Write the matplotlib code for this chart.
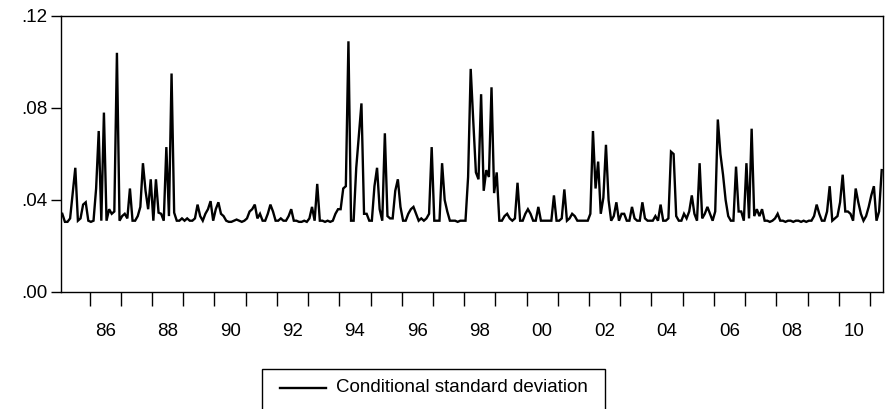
import numpy as np
import matplotlib
matplotlib.use("Agg")
import matplotlib.pyplot as plt
from matplotlib.lines import Line2D
from matplotlib.patches import Rectangle

plt.rcParams['font.family'] = ['Liberation Sans', 'DejaVu Sans']

# Monthly series, first observation 1985M2
start_year = 1985
start_month = 2
cond_sd = [
    0.034, 0.0305, 0.0305, 0.032, 0.043, 0.054, 0.031, 0.032, 0.038, 0.039, 0.031, 0.0305,
    0.031, 0.045, 0.070, 0.031, 0.078, 0.031, 0.036, 0.034, 0.035, 0.104, 0.031, 0.033,
    0.034, 0.032, 0.045, 0.031, 0.031, 0.033, 0.037, 0.056, 0.044, 0.036, 0.049, 0.031,
    0.049, 0.0345, 0.034, 0.031, 0.063, 0.033, 0.095, 0.0345, 0.031, 0.031, 0.032, 0.031,
    0.032, 0.031, 0.031, 0.032, 0.038, 0.033, 0.031, 0.034, 0.036, 0.0395, 0.031, 0.036,
    0.039, 0.034, 0.033, 0.031, 0.0305, 0.0305, 0.031, 0.0315, 0.031, 0.0305, 0.031, 0.032,
    0.035, 0.036, 0.038, 0.032, 0.034, 0.031, 0.031, 0.034, 0.038, 0.035, 0.031, 0.031,
    0.032, 0.031, 0.031, 0.033, 0.036, 0.031, 0.031, 0.0305, 0.0305, 0.031, 0.0305, 0.032,
    0.037, 0.031, 0.047, 0.031, 0.031, 0.0305, 0.031, 0.0305, 0.031, 0.034, 0.036, 0.036,
    0.045, 0.046, 0.109, 0.031, 0.031, 0.054, 0.068, 0.082, 0.034, 0.034, 0.031, 0.031,
    0.046, 0.054, 0.036, 0.031, 0.069, 0.033, 0.032, 0.032, 0.044, 0.049, 0.037, 0.031,
    0.031, 0.034, 0.036, 0.037, 0.034, 0.031, 0.032, 0.031, 0.032, 0.034, 0.063, 0.031,
    0.031, 0.031, 0.056, 0.040, 0.035, 0.031, 0.031, 0.031, 0.0305, 0.031, 0.031, 0.031,
    0.050, 0.097, 0.074, 0.052, 0.049, 0.086, 0.044, 0.053, 0.050, 0.089, 0.043, 0.052,
    0.031, 0.031, 0.033, 0.034, 0.032, 0.031, 0.032, 0.0475, 0.031, 0.031, 0.034, 0.036,
    0.034, 0.031, 0.031, 0.037, 0.031, 0.031, 0.031, 0.031, 0.031, 0.042, 0.031, 0.031,
    0.032, 0.0446, 0.031, 0.032, 0.034, 0.033, 0.031, 0.031, 0.031, 0.031, 0.031, 0.034,
    0.070, 0.045, 0.0567, 0.034, 0.041, 0.064, 0.040, 0.031, 0.033, 0.039, 0.031, 0.034,
    0.034, 0.031, 0.031, 0.037, 0.032, 0.031, 0.031, 0.039, 0.032, 0.031, 0.031, 0.031,
    0.033, 0.031, 0.038, 0.031, 0.031, 0.032, 0.061, 0.060, 0.033, 0.031, 0.031, 0.034,
    0.032, 0.035, 0.042, 0.034, 0.031, 0.056, 0.032, 0.034, 0.037, 0.034, 0.031, 0.035,
    0.075, 0.060, 0.051, 0.040, 0.033, 0.031, 0.031, 0.0545, 0.035, 0.035, 0.031, 0.056,
    0.032, 0.071, 0.033, 0.036, 0.033, 0.036, 0.031, 0.031, 0.0305, 0.031, 0.032, 0.034,
    0.031, 0.031, 0.0305, 0.031, 0.031, 0.0305, 0.031, 0.031, 0.0305, 0.031, 0.0305, 0.031,
    0.031, 0.033, 0.038, 0.034, 0.031, 0.031, 0.035, 0.046, 0.031, 0.032, 0.033, 0.039,
    0.051, 0.035, 0.035, 0.034, 0.031, 0.045, 0.039, 0.034, 0.031, 0.033, 0.037, 0.042,
    0.046, 0.031, 0.035, 0.053,
]
y_ticks = [0.00, 0.04, 0.08, 0.12]
y_labels = ['.00', '.04', '.08', '.12']
x_label_years = list(range(1986, 2011, 2))
x_labels = ['%02d' % (y % 100) for y in x_label_years]
legend_label = 'Conditional standard deviation'

n = len(cond_sd)
t = start_year + (start_month - 1 + np.arange(n) + 0.5) / 12.0
x_min = start_year + (start_month - 1) / 12.0
x_max = start_year + (start_month - 1 + n) / 12.0

FS = 13.5
W, H = 885, 409
fig = plt.figure(figsize=(W / 100, H / 100), dpi=100)
L, R, T, B = 61, 883, 16, 292
ax = fig.add_axes([L / W, 1 - B / H, (R - L) / W, (B - T) / H])

ax.plot(t, cond_sd, color='black', lw=1.7, solid_joinstyle='miter')
ax.set_xlim(x_min, x_max)
ax.set_ylim(0, 0.12)

for s in ax.spines.values():
    s.set_linewidth(1.0)
    s.set_color('black')

ax.set_yticks(y_ticks)
ax.set_yticklabels(y_labels, fontsize=FS)
ax.tick_params(axis='y', direction='out', length=7, width=1, pad=3, colors='black')

years = np.arange(int(np.ceil(x_min)), int(np.floor(x_max)) + 1)
ax.set_xticks(years)
ax.set_xticklabels([''] * len(years))
ax.tick_params(axis='x', which='major', direction='out', length=10, width=1)
ax.set_xticks([y + 0.5 for y in x_label_years], minor=True)
ax.set_xticklabels(x_labels, minor=True, fontsize=FS)
ax.tick_params(axis='x', which='minor', length=0, pad=22)

# legend box (cut at the bottom as in the reference)
lx0, lx1, ly0 = 262, 605, 369
fig.add_artist(Rectangle((lx0 / W, -0.1), (lx1 - lx0) / W, 1 - ly0 / H + 0.1,
                         transform=fig.transFigure, fill=False, lw=1.0, ec='black'))
fig.add_artist(Line2D([280 / W, 326 / W], [1 - 388 / H, 1 - 388 / H],
                      transform=fig.transFigure, color='black', lw=1.7))
fig.text(336 / W, 1 - 388 / H, legend_label, fontsize=FS, va='center', ha='left')

fig.savefig('out.png', dpi=100)
